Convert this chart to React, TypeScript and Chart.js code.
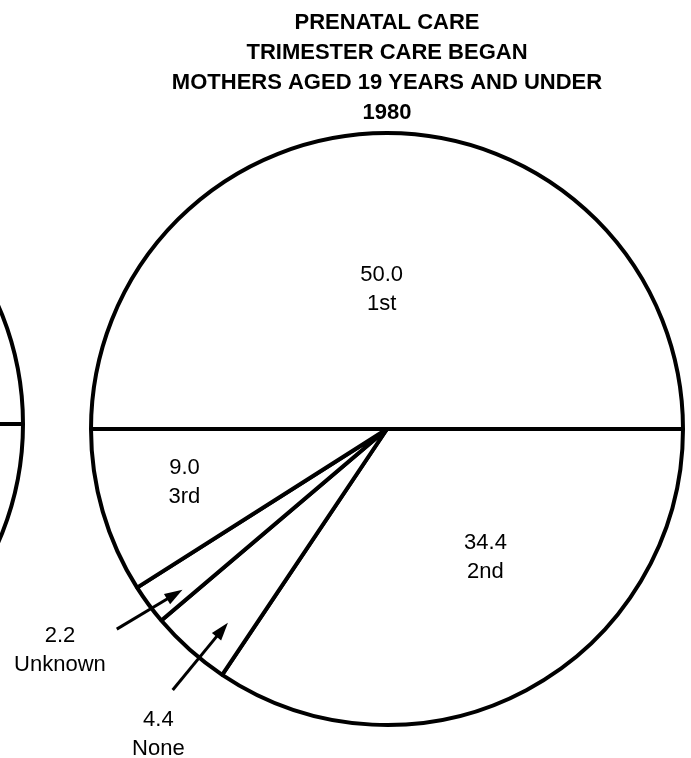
import React, { useEffect, useRef } from "react";
import { Chart, registerables } from "chart.js";

Chart.register(...registerables);

// ---- data ----
const titleLines = [
  "PRENATAL CARE",
  "TRIMESTER CARE BEGAN",
  "MOTHERS AGED 19 YEARS AND UNDER",
  "1980",
];
const categories = ["1st", "2nd", "None", "Unknown", "3rd"];
const shares = [50.0, 34.4, 4.4, 2.2, 9.0];
const valueLabels = ["50.0", "34.4", "4.4", "2.2", "9.0"];
// neighbouring pie (cut off at the left edge); only its 3 o'clock edge is visible
const neighborPieShares = [50, 50];

// ---- label placement (fraction through slice angle, fraction of radius) ----
type ArrowSpec = { tailFrac: number; tail: number; tipFrac: number; tip: number };
type LabelSpec = { frac: number; r: number; arrow?: ArrowSpec };
const labelLayout: LabelSpec[] = [
  { frac: 0.488, r: 0.48 },
  { frac: 0.421, r: 0.542 },
  { frac: 0.2, r: 1.283, arrow: { tailFrac: 0.35, tail: 1.141, tipFrac: 0.35, tip: 0.847 } },
  { frac: 0.82, r: 1.33, arrow: { tailFrac: 0.48, tail: 1.136, tipFrac: 0.27, tip: 0.879 } },
  { frac: 0.56, r: 0.706 },
];

const FONT = "'Liberation Sans', Arial, Helvetica, sans-serif";

const sliceLabels = {
  id: "sliceLabels",
  afterDatasetsDraw(chart: any) {
    const meta = chart.getDatasetMeta(0);
    const ctx: CanvasRenderingContext2D = chart.ctx;
    ctx.save();
    meta.data.forEach((arc: any, i: number) => {
      const p = arc.getProps(["x", "y", "startAngle", "endAngle", "outerRadius"], true);
      const L = labelLayout[i];
      const at = (frac: number, rf: number): [number, number] => {
        const a = p.startAngle + frac * (p.endAngle - p.startAngle);
        return [p.x + Math.cos(a) * rf * p.outerRadius, p.y + Math.sin(a) * rf * p.outerRadius];
      };
      const [cx, cy] = at(L.frac, L.r);
      ctx.font = `22px ${FONT}`;
      ctx.fillStyle = "#000";
      ctx.textAlign = "center";
      ctx.textBaseline = "alphabetic";
      ctx.fillText(valueLabels[i], cx, cy - 14.5 + 8);
      ctx.fillText(categories[i], cx, cy + 14.5 + 8);
      if (L.arrow) {
        const [tx, ty] = at(L.arrow.tailFrac, L.arrow.tail);
        const [hx, hy] = at(L.arrow.tipFrac, L.arrow.tip);
        const ang = Math.atan2(hy - ty, hx - tx);
        const headLen = 18;
        const headHalf = 6;
        const bx = hx - Math.cos(ang) * headLen;
        const by = hy - Math.sin(ang) * headLen;
        ctx.strokeStyle = "#000";
        ctx.lineWidth = 3;
        ctx.lineCap = "butt";
        ctx.beginPath();
        ctx.moveTo(tx, ty);
        ctx.lineTo(bx + Math.cos(ang) * 2, by + Math.sin(ang) * 2);
        ctx.stroke();
        ctx.beginPath();
        ctx.moveTo(hx, hy);
        ctx.lineTo(bx + Math.cos(ang + Math.PI / 2) * headHalf, by + Math.sin(ang + Math.PI / 2) * headHalf);
        ctx.lineTo(bx + Math.cos(ang - Math.PI / 2) * headHalf, by + Math.sin(ang - Math.PI / 2) * headHalf);
        ctx.closePath();
        ctx.fill();
      }
    });
    ctx.restore();
  },
};

export default function App() {
  const mainRef = useRef<HTMLCanvasElement>(null);
  const sideRef = useRef<HTMLCanvasElement>(null);

  useEffect(() => {
    const main = new Chart(mainRef.current!, {
      type: "pie",
      data: {
        labels: categories,
        datasets: [
          {
            data: shares,
            backgroundColor: "#ffffff",
            borderColor: "#000000",
            borderWidth: 4,
          },
        ],
      },
      options: {
        responsive: false,
        animation: false,
        devicePixelRatio: 1,
        events: [],
        rotation: -90,
        radius: 296,
        layout: { padding: { left: 83, right: 0, top: 0, bottom: 28 } },
        plugins: {
          legend: { display: false },
          tooltip: { enabled: false },
          title: {
            display: true,
            text: titleLines,
            color: "#000",
            font: { family: FONT, size: 22, weight: "bold", lineHeight: 30 / 22 },
            padding: { top: 8, bottom: 0 },
          },
        },
      } as any,
      plugins: [sliceLabels],
    });

    const side = new Chart(sideRef.current!, {
      type: "pie",
      data: {
        labels: ["a", "b"],
        datasets: [
          {
            data: neighborPieShares,
            backgroundColor: "#ffffff",
            borderColor: "#000000",
            borderWidth: 4,
          },
        ],
      },
      options: {
        responsive: false,
        animation: false,
        devicePixelRatio: 1,
        events: [],
        rotation: 90,
        radius: 296,
        layout: { padding: 0 },
        plugins: { legend: { display: false }, tooltip: { enabled: false } },
      } as any,
    });

    return () => {
      main.destroy();
      side.destroy();
    };
  }, []);

  return (
    <div
      style={{
        position: "fixed",
        left: 0,
        top: 0,
        width: 691,
        height: 758,
        overflow: "hidden",
        background: "#ffffff",
      }}
    >
      <canvas
        ref={sideRef}
        width={600}
        height={600}
        style={{ position: "absolute", left: -573, top: 124, width: 600, height: 600 }}
      />
      <canvas
        ref={mainRef}
        width={691}
        height={758}
        style={{ position: "absolute", left: 0, top: 0, width: 691, height: 758 }}
      />
    </div>
  );
}
